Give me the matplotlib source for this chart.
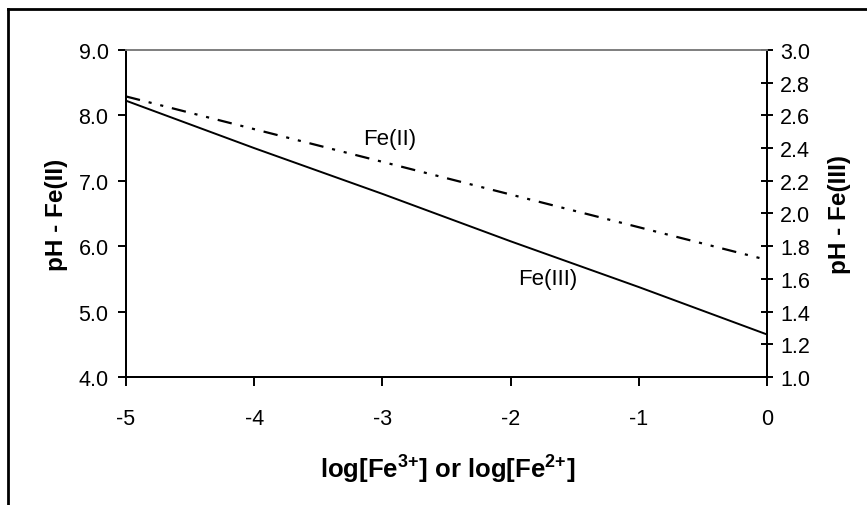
import matplotlib
matplotlib.use("Agg")
import matplotlib.pyplot as plt
from matplotlib.lines import Line2D

plt.rcParams['font.family'] = ['Liberation Sans', 'DejaVu Sans']
plt.rcParams['mathtext.default'] = 'regular'

# data
log_fe = [-5, -4, -3, -2, -1, 0]
ph_fe2 = [8.29, 7.79, 7.29, 6.79, 6.29, 5.79]       # left axis
ph_fe3 = [2.69, 2.40, 2.12, 1.83, 1.55, 1.26]       # right axis
left_ticks = [4.0, 5.0, 6.0, 7.0, 8.0, 9.0]
right_ticks = [1.0, 1.2, 1.4, 1.6, 1.8, 2.0, 2.2, 2.4, 2.6, 2.8, 3.0]

fig = plt.figure(figsize=(8.67, 5.06), dpi=100)
ax = fig.add_axes([0.1453, 0.2530, 0.7394, 0.6462])
ax2 = ax.twinx()

ax.plot(log_fe, ph_fe2, color='black', lw=1.6, dashes=(6.5, 4, 1.4, 4, 1.4, 4))
ax2.plot(log_fe, ph_fe3, color='black', lw=1.4)

ax.set_xlim(-5, 0)
ax.set_ylim(4, 9)
ax2.set_ylim(1, 3)
ax.set_xticks(log_fe)
ax.set_xticklabels(['-5', '-4', '-3', '-2', '-1', '0'])
ax.set_yticks(left_ticks)
ax.set_yticklabels(['%.1f' % v for v in left_ticks])
ax2.set_yticks(right_ticks)
ax2.set_yticklabels(['%.1f' % v for v in right_ticks])

for a in (ax, ax2):
    a.spines['top'].set_color('#808080')
    a.spines['top'].set_linewidth(1.3)
    for s in ('left', 'right', 'bottom'):
        a.spines[s].set_linewidth(1.4)
ax.tick_params(axis='y', direction='out', length=5.5, width=1.4, labelsize=15.5, pad=7)
ax.tick_params(axis='x', direction='out', length=6.5, width=1.4, labelsize=15.5, pad=16)
ax2.tick_params(axis='y', direction='inout', length=8.5, width=1.4, labelsize=15.5, pad=5)

ax.set_ylabel('pH - Fe(II)', fontsize=17.5, fontweight='bold')
ax.yaxis.set_label_coords(-0.090, 0.5)
ax2.set_ylabel('pH - Fe(III)', fontsize=17.5, fontweight='bold')
ax2.yaxis.set_label_coords(1.095, 0.5)
ax.set_xlabel('log[Fe$^{3{+}}$] or log[Fe$^{2{+}}$]', fontsize=18.5, fontweight='bold')
ax.xaxis.set_label_coords(0.502, -0.232)

ax.text(-2.94, 7.64, 'Fe(II)', fontsize=16, ha='center', va='center')
ax.text(-1.71, 5.50, 'Fe(III)', fontsize=16, ha='center', va='center')

# outer chart frame (clipped at right and bottom)
fig.add_artist(Line2D([7.5 / 867, 7.5 / 867], [0, 1 - 10 / 506], color='black', lw=2))
fig.add_artist(Line2D([7.5 / 867, 1], [1 - 10 / 506, 1 - 10 / 506], color='black', lw=2))

fig.savefig('out.png', dpi=100)
